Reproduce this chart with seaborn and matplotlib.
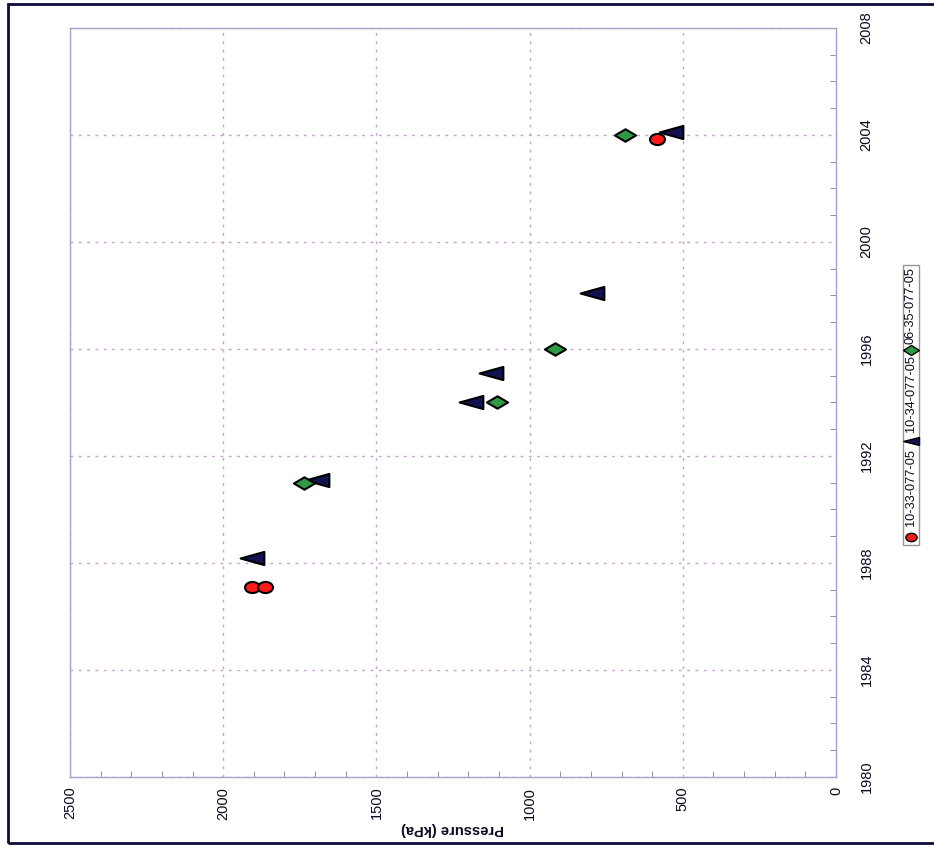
import matplotlib
matplotlib.use("Agg")
import matplotlib.pyplot as plt
import seaborn as sns
from matplotlib.markers import MarkerStyle
from matplotlib.transforms import Affine2D
from matplotlib.patches import Rectangle
from matplotlib.lines import Line2D
from matplotlib.ticker import MultipleLocator

well_names = ["10-33-077-05", "10-34-077-05", "06-35-077-05"]
red_press = [1905, 1865, 584]
red_year = [1987.1, 1987.1, 2003.85]
black_press = [1905, 1695, 1190, 1125, 795, 540]
black_year = [1988.2, 1991.1, 1994.0, 1995.1, 1998.1, 2004.1]
green_press = [1735, 1107, 916, 690]
green_year = [1991.0, 1994.0, 1996.0, 2004.0]

press_ticks = [2500, 2000, 1500, 1000, 500, 0]
year_ticks = [1980, 1984, 1988, 1992, 1996, 2000, 2004, 2008]

sns.set_style("white")
plt.rcParams["font.family"] = ["Liberation Sans", "DejaVu Sans"]
ink = "#0a0a20"

fig = plt.figure(figsize=(9.34, 8.48), dpi=100)
ax = fig.add_axes([70 / 934, 1 - 777 / 848, (836 - 70) / 934, (777 - 28) / 848])

circ = MarkerStyle("o", transform=Affine2D().scale(1.35, 1.0))
tri = MarkerStyle("<", transform=Affine2D().scale(1.8, 1.0))
diam = MarkerStyle("D", transform=Affine2D().scale(1.7, 1.0))

sns.scatterplot(x=black_press, y=black_year, marker=tri, s=90, color="#121250",
                edgecolor="black", linewidth=1.5, ax=ax, zorder=3)
sns.scatterplot(x=green_press, y=green_year, marker=diam, s=40, color="#2f9a45",
                edgecolor="black", linewidth=1.5, ax=ax, zorder=4)
sns.scatterplot(x=red_press, y=red_year, marker=circ, s=64, color="#ff1a1a",
                edgecolor="black", linewidth=1.5, ax=ax, zorder=5)

ax.set_xlim(2500, 0)
ax.set_ylim(1980, 2008)
ax.set_xticks(press_ticks)
ax.set_yticks(year_ticks)
ax.xaxis.set_minor_locator(MultipleLocator(100))
ax.yaxis.set_minor_locator(MultipleLocator(1))
ax.yaxis.tick_right()
ax.tick_params(axis="x", which="major", length=0, pad=7, labelsize=10.5,
               labelrotation=90, labelcolor=ink)
ax.tick_params(axis="y", which="major", length=0, pad=22, labelsize=10.5,
               labelrotation=90, labelcolor=ink)
ax.tick_params(which="minor", direction="in", length=4, color="#8080a0",
               bottom=True, right=True, left=False, top=False)
for lab in ax.get_yticklabels():
    lab.set_verticalalignment("center")
    lab.set_horizontalalignment("center")

ax.grid(True, which="major", linestyle=(0, (2, 4)), color="#c8a0d0", linewidth=1)
for sp in ax.spines.values():
    sp.set_color("#a8a0c8")
    sp.set_linewidth(1)

fig.text(453 / 934, 1 - 829 / 848, "Pressure (kPa)", rotation=180, ha="center",
         va="center", fontsize=10.5, fontweight="bold", color=ink)

# outer border
fig.add_artist(Rectangle((8 / 934, 1 - 843 / 848), 1.0, (843 - 4) / 848,
                         transform=fig.transFigure, fill=False,
                         edgecolor="#0c0c3a", linewidth=2))

# rotated legend drawn by hand
fig.add_artist(Rectangle((903 / 934, 1 - 545 / 848), 16 / 934, 280 / 848,
                         transform=fig.transFigure, facecolor="white",
                         edgecolor="#a09090", linewidth=1))
leg_marks = [(circ, "#ff1a1a", 36, 537, 487), (tri, "#121250", 36, 441, 394),
             (diam, "#2f9a45", 22, 350, 305)]
for (mk, col, sz, ypix, tpix), name in zip(leg_marks, well_names):
    fig.add_artist(Line2D([911 / 934], [1 - ypix / 848], transform=fig.transFigure,
                          marker=mk, markersize=sz ** 0.5, markerfacecolor=col,
                          markeredgecolor="black", markeredgewidth=1, linestyle=""))
    fig.text(911 / 934, 1 - tpix / 848, name, rotation=90, ha="center",
             va="center", fontsize=9.2, color=ink)

fig.savefig("out.png", dpi=100)
